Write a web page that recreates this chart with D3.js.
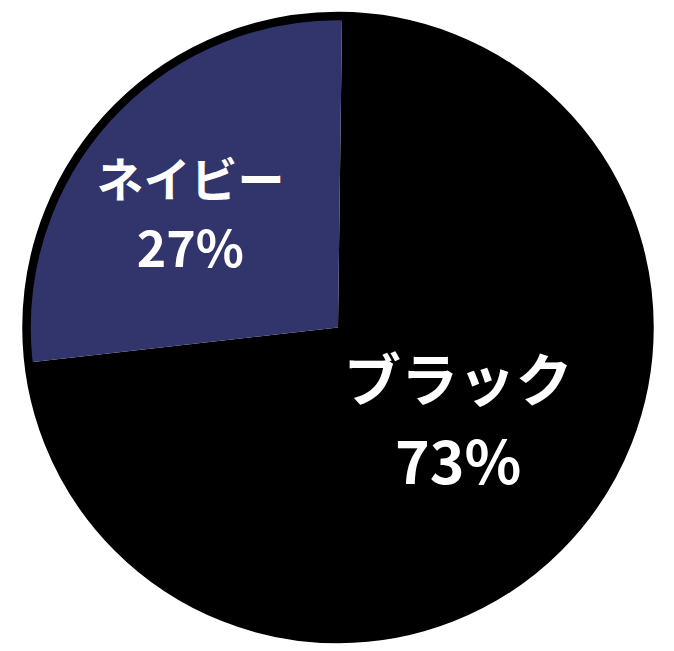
<!DOCTYPE html>
<html>
<head>
<meta charset="utf-8">
<script src="https://cdn.jsdelivr.net/npm/d3@7"></script>
<style>
  body { margin: 0; background: #fff; }
  svg text { font-family: "Noto Sans CJK JP", "Noto Sans", sans-serif; font-weight: bold; fill: #fff; }
</style>
</head>
<body>
<script>
// data
const categories = ["ブラック", "ネイビー"];
const values = [73, 27];
const colors = ["#000000", "#31356b"];

const w = 674;
const h = 651;
const cx = 338;
const cy = 327.5;
const radius = 311.5;

// label layout (fraction of radius, nudge, font size, kana scale)
const labelLayout = {
    "ブラック": { f: 0.49, dx: 7, dy: -10, size: 59, kana: 0.97 },
    "ネイビー": { f: 0.6, dx: -9, dy: 11, size: 50, kana: 0.94 }
};

const svg = d3.select("body")
    .append("svg")
    .attr("width", w)
    .attr("height", h);

const g = svg.append("g")
    .attr("transform", "translate(" + cx + "," + cy + ")");

const total = d3.sum(values);
const pie = d3.pie()
    .sort(null)
    .startAngle(0.013)
    .endAngle(0.013 + 2 * Math.PI)
    .value(d => d);

const arc = d3.arc()
    .innerRadius(0)
    .outerRadius(radius);

const arcs = pie(values);

g.selectAll("path.slice")
    .data(arcs)
    .enter()
    .append("path")
    .attr("class", "slice")
    .attr("d", arc)
    .attr("fill", (d, i) => colors[i]);

// outer border
g.append("circle")
    .attr("r", radius)
    .attr("fill", "none")
    .attr("stroke", "#000")
    .attr("stroke-width", 8.5);

const labels = g.selectAll("g.label")
    .data(arcs)
    .enter()
    .append("g")
    .attr("class", "label")
    .attr("transform", (d, i) => {
        const l = labelLayout[categories[i]];
        const c = d3.arc().innerRadius(0).outerRadius(radius * l.f * 2).centroid(d);
        return "translate(" + (c[0] + l.dx) + "," + (c[1] + l.dy) + ")";
    });

labels.append("text")
    .attr("text-anchor", "middle")
    .attr("y", (d, i) => -0.32 * labelLayout[categories[i]].size)
    .style("font-size", (d, i) => labelLayout[categories[i]].size * labelLayout[categories[i]].kana + "px")
    .text((d, i) => categories[i]);

labels.append("text")
    .attr("text-anchor", "middle")
    .attr("y", (d, i) => 1.08 * labelLayout[categories[i]].size)
    .style("font-size", (d, i) => labelLayout[categories[i]].size + "px")
    .text((d, i) => Math.round(values[i] / total * 100) + "%");
</script>
</body>
</html>
